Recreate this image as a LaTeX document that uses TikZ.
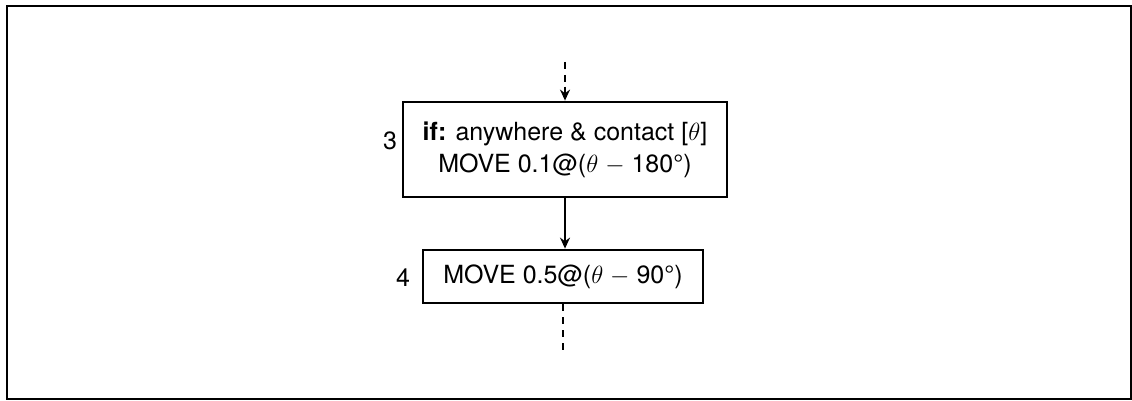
\documentclass[tikz,border=0pt]{standalone}
\usepackage{fontspec}
\setmainfont{TeX Gyre Heros}
\usetikzlibrary{arrows.meta}
\begin{document}
\begin{tikzpicture}[x=1pt,y=-1pt,
  box/.style={draw,line width=2.8pt,inner sep=0pt,font=\fontsize{25}{32}\selectfont},
  lbl/.style={font=\fontsize{25}{28}\selectfont,inner sep=0pt},
  arr/.style={line width=1.8pt,-{Stealth[length=11pt,width=10pt]}},
  dsh/.style={line width=2pt,dash pattern=on 7pt off 6pt}]
\useasboundingbox (0,0) rectangle (1132,401);
\draw[line width=2.2pt] (7,399) -- (7,6) -- (1131,6) -- (1131,399) -- cycle;
\node[box,minimum width=324pt,minimum height=95pt,align=center] (b3) at (565,149.5)
  {\textbf{if:} anywhere \& contact [$\theta$]\\[0pt] MOVE 0.1@($\theta$ $-$ 180°)};
\node[box,minimum width=280pt,minimum height=53pt] (b4) at (563,276.5)
  {MOVE 0.5@($\theta$ $-$ 90°)};
\node[lbl] (l3) at (390,141) {3};
\node[lbl] (l4) at (403,278) {4};
\coordinate (top) at (565,62);
\coordinate (bot) at (563,350);
\draw[dsh] (top) -- ([yshift=12pt]b3.north);
\draw[arr] ([yshift=14pt]b3.north) -- (b3.north);
\draw[arr] (b3.south) -- (b3.south |- b4.north);
\draw[dsh] (b4.south) -- (bot);
\end{tikzpicture}
\end{document}
